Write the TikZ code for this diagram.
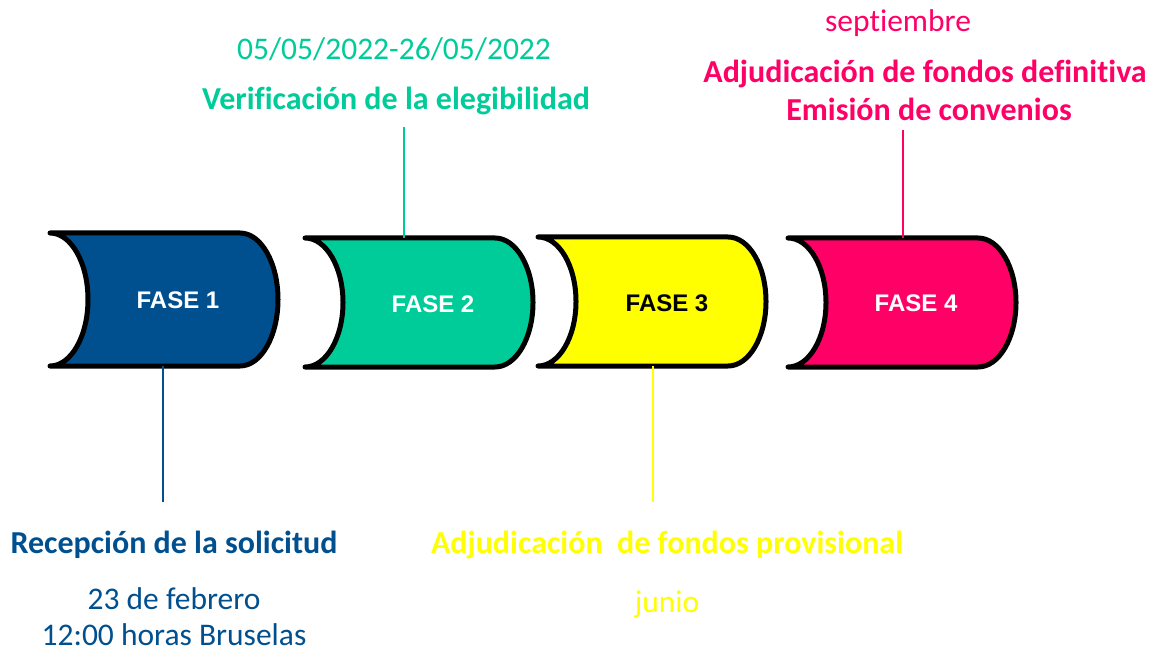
\documentclass[tikz,border=0pt]{standalone}
\usepackage{fontspec}
\setmainfont[Ligatures=NoCommon]{Carlito}
\newfontfamily\arialfont{Liberation Sans}
\definecolor{fblue}{RGB}{0,80,143}
\definecolor{fgreen}{RGB}{0,204,153}
\definecolor{fyellow}{RGB}{255,255,0}
\definecolor{fpink}{RGB}{255,0,102}
\begin{document}
\begin{tikzpicture}[x=1pt,y=-1pt,
  phase/.style={draw=black,line width=5pt,line join=round,line cap=round},
  fase/.style={font=\arialfont\bfseries\fontsize{24}{28}\selectfont,inner sep=0pt},
  title/.style={font=\bfseries\fontsize{32}{38}\selectfont,anchor=base,inner sep=0pt},
  date/.style={font=\fontsize{31.5}{38}\selectfont,anchor=base,inner sep=0pt},
  conn/.style={line width=2pt}]
\useasboundingbox (0,0) rectangle (1150,652);
% phase shapes
\foreach \n/\xa/\ya/\yb/\col in {1/50/233/366/fblue,2/305/238/367/fgreen,3/538/237/366/fyellow,4/788/238/367/fpink}{
  \pgfmathsetmacro\ym{(\ya+\yb)/2}
  \pgfmathsetmacro\ry{(\yb-\ya)/2*0.5523}
  \draw[phase,fill=\col] (\xa,\ya) -- (\xa+190,\ya)
    .. controls (\xa+211,\ya) and (\xa+228,\ym-\ry) .. (\xa+228,\ym)
    .. controls (\xa+228,\ym+\ry) and (\xa+211,\yb) .. (\xa+190,\yb)
    -- (\xa,\yb)
    .. controls (\xa+21,\yb) and (\xa+38,\ym+\ry) .. (\xa+38,\ym)
    .. controls (\xa+38,\ym-\ry) and (\xa+21,\ya) .. cycle;
}
\node[fase,text=white] (f1) at (178,300) {FASE 1};
\node[fase,text=white] (f2) at (433,304) {FASE 2};
\node[fase,text=black] (f3) at (667,303) {FASE 3};
\node[fase,text=white] (f4) at (916,303) {FASE 4};
% labels
\node[title,text=fblue] (t1) at (174,553) {Recepción de la solicitud};
\node[date,text=fblue] (d1a) at (174,609) {23 de febrero};
\node[date,text=fblue] (d1b) at (174,645) {12:00 horas Bruselas};
\node[date,text=fgreen] (d2) at (394,60) {05/05/2022-26/05/2022};
\node[title,text=fgreen] (t2) at (396,110) {Verificación de la elegibilidad};
\node[title,text=fyellow] (t3) at (667,553) {Adjudicación\ \ de fondos provisional};
\node[date,text=fyellow] (d3) at (667,612) {junio};
\node[date,text=fpink] (d4) at (898,32) {septiembre};
\node[title,text=fpink] (t4a) at (925,83) {Adjudicación de fondos definitiva};
\node[title,text=fpink] (t4b) at (929,121) {Emisión de convenios};
% connectors
\coordinate (s1) at (163,366); \coordinate (e1) at (163,502);
\coordinate (s2) at (404,238); \coordinate (e2) at (404,127);
\coordinate (s3) at (653,366); \coordinate (e3) at (653,502);
\coordinate (s4) at (903,238); \coordinate (e4) at (903,130);
\draw[conn,fblue] (s1) -- (e1);
\draw[conn,fgreen] (s2) -- (e2);
\draw[conn,fyellow] (s3) -- (e3);
\draw[conn,fpink] (s4) -- (e4);
\end{tikzpicture}
\end{document}
